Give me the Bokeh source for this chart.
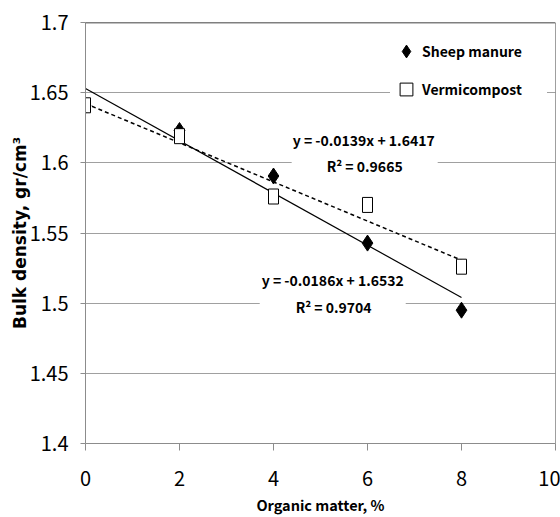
import numpy as np
from bokeh.plotting import figure
from bokeh.models import FixedTicker, Span, Label, Legend, LegendItem
from bokeh.embed import file_html
from bokeh.resources import INLINE

# ---- data ----
organic_matter = [0, 2, 4, 6, 8]
sheep_manure = [1.641, 1.623, 1.5906, 1.5428, 1.495]
vermicompost = [1.641, 1.619, 1.576, 1.570, 1.526]
x_ticks = [0, 2, 4, 6, 8, 10]
y_ticks = [1.4, 1.45, 1.5, 1.55, 1.6, 1.65, 1.7]
y_tick_labels = ["1.4", "1.45", "1.5", "1.55", "1.6", "1.65", "1.7"]
series_names = ["Sheep manure", "Vermicompost"]
sheep_eq = ["y = -0.0186x + 1.6532", "R² = 0.9704"]
verm_eq = ["y = -0.0139x + 1.6417", "R² = 0.9665"]

FONT_N = "'Noto Sans CJK JP', 'Liberation Sans Narrow', sans-serif"
FONT_W = "'DejaVu Sans', Verdana, sans-serif"
GRAY = "#8c8c8c"

p = figure(width=560, height=517, x_range=(0, 10), y_range=(1.4, 1.7),
           output_backend="svg", toolbar_location=None,
           min_border_left=85, min_border_right=5, min_border_top=22, min_border_bottom=74)
p.outline_line_color = None
p.background_fill_color = "white"
p.border_fill_color = "white"

# grid
p.xgrid.visible = False
p.ygrid.ticker = FixedTicker(ticks=y_ticks)
p.ygrid.grid_line_color = "#a0a0a0"
p.ygrid.grid_line_width = 1

# axes
p.xaxis.ticker = FixedTicker(ticks=x_ticks)
p.yaxis.ticker = FixedTicker(ticks=y_ticks)
p.yaxis.major_label_overrides = {t: l for t, l in zip(y_ticks, y_tick_labels)}
for ax in (p.xaxis[0], p.yaxis[0]):
    ax.axis_line_color = GRAY
    ax.major_tick_line_color = GRAY
    ax.minor_tick_line_color = None
    ax.major_tick_in = 0
    ax.major_label_text_font = FONT_N
    ax.major_label_text_font_size = "20px"
    ax.major_label_text_color = "black"
    ax.axis_label_text_color = "black"
    ax.axis_label_text_font_style = "bold"
p.xaxis.major_tick_out = 7
p.yaxis.major_tick_out = 5
p.yaxis.major_label_standoff = 12
p.xaxis.major_label_standoff = 20
p.xaxis.axis_label = "Organic matter, %"
p.xaxis.axis_label_text_font = FONT_N
p.xaxis.axis_label_text_font_size = "14.5px"
p.xaxis.axis_label_standoff = 5
p.yaxis.axis_label = "Bulk density, gr/cm³"
p.yaxis.axis_label_text_font = FONT_W
p.yaxis.axis_label_text_font_size = "17px"
p.yaxis.axis_label_standoff = -3

# trendlines (least squares from the data)
x_fit = np.array([min(organic_matter), max(organic_matter)], dtype=float)
m_s, b_s = np.polyfit(organic_matter, sheep_manure, 1)
m_v, b_v = np.polyfit(organic_matter, vermicompost, 1)
p.line(x_fit, m_s * x_fit + b_s, line_color="black", line_width=1.2)
p.line(x_fit, m_v * x_fit + b_v, line_color="black", line_width=1.5, line_dash="4 3")

# points
r_sheep = p.scatter(organic_matter, sheep_manure, marker="diamond", size=16,
                    fill_color="black", line_color="black")
r_ghost = p.scatter(organic_matter, vermicompost, marker="square", size=0,
                    fill_color="white", line_color="black", line_width=1)
p.rect(x=organic_matter, y=vermicompost, width=10, height=15,
       width_units="screen", height_units="screen",
       fill_color="white", line_color="black", line_width=1)

# legend
legend = Legend(items=[LegendItem(label=series_names[0], renderers=[r_sheep]),
                       LegendItem(label=series_names[1], renderers=[r_ghost])],
                location=(305, 338), glyph_width=32, glyph_height=32,
                label_standoff=0, spacing=6, padding=0, label_width=125,
                background_fill_color="white", background_fill_alpha=1.0,
                border_line_color=None, margin=0,
                label_text_font=FONT_N, label_text_font_style="bold",
                label_text_font_size="14px", label_text_color="black")
p.add_layout(legend)

# trendline labels
def eq_label(x, y, text, pad):
    return Label(x=x, y=y, text=text, text_align="center", text_baseline="middle",
                 text_font=FONT_N, text_font_style="bold", text_font_size="14px",
                 text_color="black", background_fill_color="white",
                 background_fill_alpha=1.0, padding=pad)

p.add_layout(eq_label(5.94, 1.6109, verm_eq[0], dict(left=1, right=3, top=0, bottom=16)))
p.add_layout(eq_label(5.94, 1.5974, verm_eq[1], dict(left=0, right=0, top=0, bottom=0)))
p.add_layout(eq_label(5.26, 1.5111, sheep_eq[0], dict(left=2, right=2, top=0, bottom=16)))
p.add_layout(eq_label(5.28, 1.4976, sheep_eq[1], dict(left=0, right=0, top=0, bottom=0)))

# plot area border (top, right)
p.add_layout(Span(location=1.7, dimension="width", line_color="black", line_width=1.3))
p.add_layout(Span(location=10, dimension="height", line_color="#404040", line_width=1))

open("out.html", "w").write(file_html(p, INLINE))
